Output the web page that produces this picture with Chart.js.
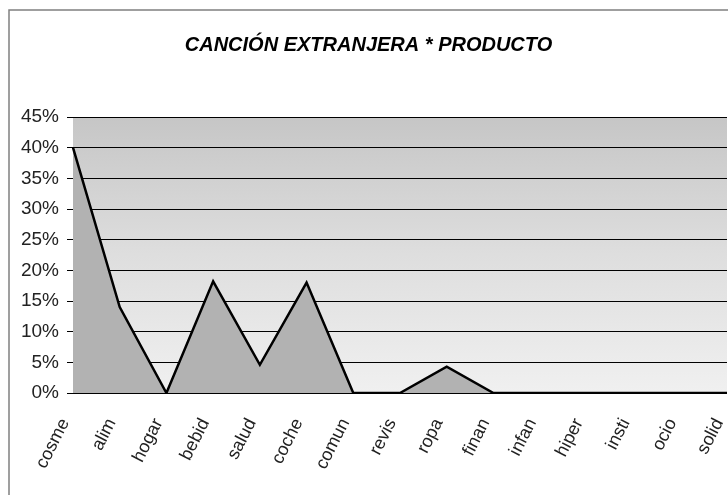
<!DOCTYPE html>
<html>
<head>
<meta charset="utf-8">
<script src="https://cdn.jsdelivr.net/npm/chart.js@4/dist/chart.umd.min.js"></script>
<style>
  html, body { margin: 0; padding: 0; background: #fff; }
  #wrap { width: 728px; height: 495px; position: relative; }
</style>
</head>
<body>
<div id="wrap"><canvas id="areaChart"></canvas></div>
<script>
const categories = ["cosme", "alim", "hogar", "bebid", "salud", "coche", "comun", "revis", "ropa", "finan", "infan", "hiper", "insti", "ocio", "solid"];
const shares = [40, 14, 0, 18.2, 4.6, 18, 0, 0, 4.3, 0, 0, 0, 0, 0, 0];
const yTicks = [0, 5, 10, 15, 20, 25, 30, 35, 40, 45];

// chart border plus gradient plot background
const frame = {
  id: "frame",
  beforeDraw(chart) {
    const { ctx, chartArea: a } = chart;
    ctx.save();
    ctx.strokeStyle = "#808080";
    ctx.lineWidth = 1.5;
    ctx.beginPath();
    ctx.moveTo(9, 500);
    ctx.lineTo(9, 10);
    ctx.lineTo(730, 10);
    ctx.stroke();
    const g = ctx.createLinearGradient(0, a.top, 0, a.bottom);
    g.addColorStop(0, "#c6c6c6");
    g.addColorStop(0.5, "#dedede");
    g.addColorStop(1, "#f0f0f0");
    ctx.fillStyle = g;
    ctx.fillRect(a.left, a.top, a.right - a.left, a.bottom - a.top);
    ctx.restore();
  },
};

new Chart(document.getElementById("areaChart"), {
  type: "line",
  data: {
    labels: categories,
    datasets: [{
      data: shares,
      fill: "origin",
      backgroundColor: "#b2b2b2",
      borderColor: "#000",
      borderWidth: 2.5,
      tension: 0,
      pointRadius: 0,
    }],
  },
  options: {
    responsive: true,
    maintainAspectRatio: false,
    animation: false,
    layout: { padding: { left: 10, right: 1, top: 0, bottom: 0 } },
    plugins: {
      legend: { display: false },
      tooltip: { enabled: false },
      title: {
        display: true,
        text: "CANCIÓN EXTRANJERA * PRODUCTO",
        color: "#000",
        font: { family: "Liberation Sans", size: 20, weight: "bold", style: "italic", lineHeight: 1.2 },
        padding: { top: 33, bottom: 60 },
      },
    },
    scales: {
      x: {
        offset: false,
        grid: { display: false },
        border: { display: false },
        ticks: {
          color: "#222",
          font: { family: "Liberation Sans", size: 18 },
          minRotation: 63,
          maxRotation: 63,
          autoSkip: false,
          padding: 14,
          labelOffset: -8,
        },
        afterFit(scale) {
          scale.height = 102;
          scale.paddingLeft = 0;
          scale.paddingRight = 0;
        },
      },
      y: {
        min: 0,
        max: 45,
        afterBuildTicks(scale) { scale.ticks = yTicks.map(v => ({ value: v })); },
        grid: { color: "#000", lineWidth: 1, tickLength: 6, drawTicks: true },
        border: { display: false },
        ticks: {
          color: "#222",
          font: { family: "Liberation Sans", size: 19 },
          padding: 8,
          callback: v => v + "%",
        },
        afterFit(scale) {
          scale.width = 63;
          scale.paddingTop = 0;
          scale.paddingBottom = 0;
        },
      },
    },
  },
  plugins: [frame],
});
</script>
</body>
</html>
